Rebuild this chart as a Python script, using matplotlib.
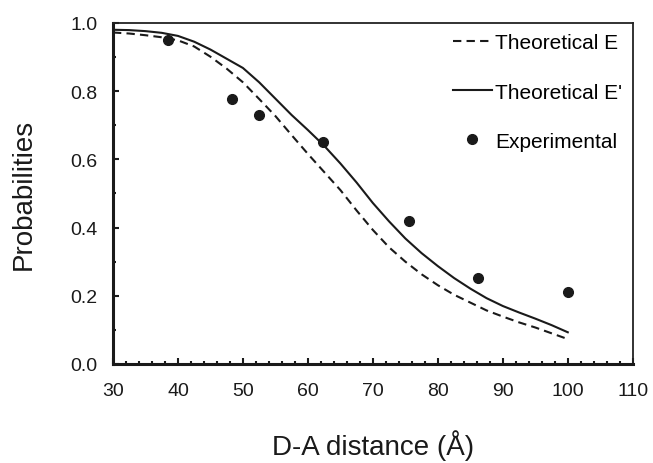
import numpy as np
import matplotlib
matplotlib.use("Agg")
import matplotlib.pyplot as plt
from matplotlib.ticker import MultipleLocator

plt.rcParams['font.family'] = ['Liberation Sans', 'DejaVu Sans']

# curves
dist = [30, 32.5, 35, 37.5, 40, 42.5, 45, 47.5, 50, 52.5, 55, 57.5, 60, 62.5,
        65, 67.5, 70, 72.5, 75, 77.5, 80, 82.5, 85, 87.5, 90, 92.5, 95, 97.5, 100]
theo_e = [0.972, 0.969, 0.964, 0.958, 0.949, 0.931, 0.901, 0.866, 0.826, 0.777,
          0.727, 0.671, 0.616, 0.563, 0.510, 0.450, 0.393, 0.342, 0.300, 0.263,
          0.231, 0.203, 0.180, 0.157, 0.139, 0.122, 0.107, 0.090, 0.073]
theo_e2 = [0.980, 0.979, 0.976, 0.971, 0.962, 0.945, 0.922, 0.895, 0.868, 0.826,
           0.778, 0.730, 0.686, 0.640, 0.588, 0.532, 0.472, 0.418, 0.368, 0.325,
           0.287, 0.252, 0.221, 0.193, 0.170, 0.151, 0.133, 0.114, 0.093]

# experimental points
exp_dist = [38.4, 48.3, 52.5, 62.4, 75.5, 86.2, 100.0]
exp_prob = [0.950, 0.778, 0.731, 0.651, 0.420, 0.251, 0.210]

fig = plt.figure(figsize=(6.53, 4.64), dpi=100)
ax = fig.add_axes([0.173, 0.2134, 0.796, 0.735])

ax.plot(dist, theo_e, color='#1a1a1a', lw=1.5, dashes=(4, 2.5), label='Theoretical E')
ax.plot(dist, theo_e2, color='#1a1a1a', lw=1.5, label="Theoretical E'")
ax.plot(exp_dist, exp_prob, 'o', color='#1a1a1a', ms=7, label='Experimental')

ax.set_xlim(30, 110)
ax.set_ylim(0, 1.0)
ax.xaxis.set_major_locator(MultipleLocator(10))
ax.xaxis.set_minor_locator(MultipleLocator(2))
ax.yaxis.set_major_locator(MultipleLocator(0.2))
ax.yaxis.set_minor_locator(MultipleLocator(0.1))
ax.yaxis.set_major_formatter(plt.FormatStrFormatter('%.1f'))

ax.tick_params(which='both', direction='in', top=False, right=False,
               labelsize=14, colors='#1a1a1a', width=1.5)
ax.tick_params(which='major', length=4.5, pad=13)
ax.tick_params(axis='y', which='major', pad=11)
ax.tick_params(which='minor', length=2.5)

for s in ['left', 'bottom']:
    ax.spines[s].set_linewidth(2.2)
    ax.spines[s].set_color('#1a1a1a')
for s in ['top', 'right']:
    ax.spines[s].set_linewidth(1.3)
    ax.spines[s].set_color('#222222')

ax.set_xlabel('D-A distance (Å)', fontsize=20, color='#1a1a1a', labelpad=22)
ax.set_ylabel('Probabilities', fontsize=20, color='#1a1a1a', labelpad=24)

ax.legend(loc='upper right', frameon=False, fontsize=15, handlelength=1.9,
          handletextpad=0.15, labelspacing=1.45, borderaxespad=0.1,
          bbox_to_anchor=(1.0, 1.0))

fig.savefig('out.png', dpi=100)
